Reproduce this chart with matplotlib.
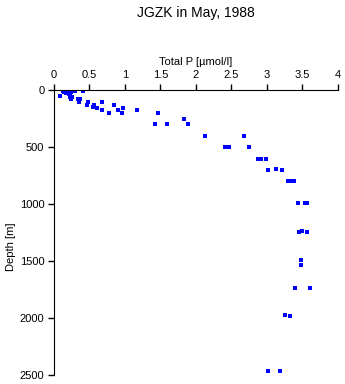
import numpy as np
import matplotlib
matplotlib.use("Agg")
import matplotlib.pyplot as plt

plt.rcParams['font.family'] = ['Liberation Sans', 'DejaVu Sans']

# Total P [umol/l] and depth [m]
total_p = [0.12, 0.14, 0.17, 0.18, 0.21, 0.23, 0.24, 0.25, 0.30, 0.41,
           0.09, 0.22, 0.24, 0.34, 0.37, 0.35, 0.48, 0.47, 0.56, 0.55,
           0.61, 0.67, 0.67, 0.78, 0.85, 0.90, 0.97, 0.96, 1.17, 1.42,
           1.47, 1.59, 1.83, 1.89, 2.12, 2.67, 2.41, 2.46, 2.74, 2.88,
           2.92, 2.98, 3.02, 3.12, 3.21, 3.30, 3.35, 3.38, 3.44, 3.54,
           3.56, 3.45, 3.50, 3.57, 3.48, 3.48, 3.39, 3.60, 3.25, 3.33,
           3.01, 3.19]
depth = [6, 18, 29, 18, 35, 47, 18, 58, 6, 6,
         53, 58, 76, 82, 82, 105, 105, 129, 134, 152,
         158, 105, 175, 205, 129, 175, 158, 205, 175, 298,
         205, 298, 257, 298, 404, 404, 503, 503, 503, 603,
         603, 603, 702, 695, 702, 798, 800, 798, 994, 994,
         994, 1243, 1240, 1246, 1491, 1538, 1734, 1734, 1977, 1980,
         2468, 2468]

xticks = [0, 0.5, 1, 1.5, 2, 2.5, 3, 3.5, 4]
xticklabels = ['0', '0.5', '1', '1.5', '2', '2.5', '3', '3.5', '4']
yticks = [0, 500, 1000, 1500, 2000, 2500]

fig = plt.figure(figsize=(3.45, 3.84), dpi=100)
ax = fig.add_axes([0.1565, 0.0234, 0.8232, 0.7422])

ax.plot(total_p, depth, linestyle='none', marker='s', markersize=2.3,
        color='#0000ff', markeredgewidth=0)

ax.set_xlim(0, 4)
ax.set_ylim(2500, 0)
ax.set_xticks(xticks)
ax.set_xticklabels(xticklabels)
ax.set_yticks(yticks)

ax.xaxis.tick_top()
ax.xaxis.set_label_position('top')
ax.spines['right'].set_visible(False)
ax.spines['bottom'].set_visible(False)
ax.tick_params(direction='out', length=4, width=1, labelsize=8, pad=3)
ax.set_xlabel('Total P [\u00b5mol/l]', fontsize=8, labelpad=4)
ax.set_ylabel('Depth [m]', fontsize=8, labelpad=2)
ax.yaxis.set_label_coords(-0.135, 0.45)

fig.text(0.568, 0.965, 'JGZK in May, 1988', ha='center', va='center', fontsize=10)

fig.savefig('out.png', dpi=100)
